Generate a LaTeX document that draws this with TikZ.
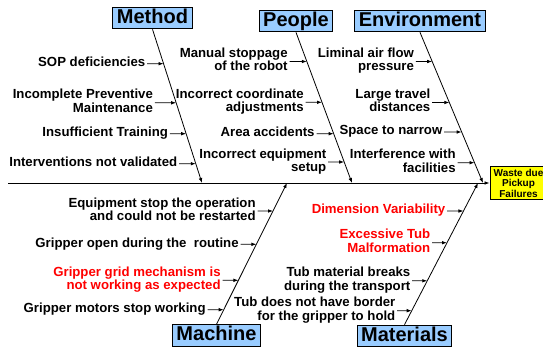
\documentclass[tikz,border=0pt]{standalone}
\usepackage{fontspec}
\setmainfont{Liberation Sans}
\usetikzlibrary{arrows.meta,intersections}
\definecolor{catblue}{RGB}{153,204,255}
\definecolor{effectyellow}{RGB}{255,255,0}

% arrow from a cause label to the bone it belongs to
\newcommand\causeto[2]{%
  \path[name path=hline] (#2.east) -- ++(90,0);
  \draw[tip, name intersections={of=#1 and hline}] (#2.east) -- (intersection-1);
}

\begin{document}
\begin{tikzpicture}[x=1pt,y=-1pt,
  line width=0.8pt,
  tip/.style={-{Latex[length=5pt,width=3.6pt]}},
  category/.style={draw=black, line width=1pt, fill=catblue,
    font=\bfseries\fontsize{20}{24}\selectfont,
    inner xsep=4pt, inner ysep=1.5pt, text height=14.5pt, text depth=4.2pt},
  cause/.style={font=\bfseries\fontsize{13.2}{13.4}\selectfont, align=right,
    anchor=east, inner xsep=1.5pt, inner ysep=0pt,
    execute at begin node=\strut, execute at end node=\strut},
  keycause/.style={cause, text=red},
  effect/.style={draw=black, line width=1pt, fill=effectyellow, align=center,
    font=\bfseries\fontsize{10}{10.5}\selectfont, inner sep=0pt,
    minimum width=57pt, minimum height=33pt}
]
\useasboundingbox (0,0) rectangle (543,351);
\clip (0,0) rectangle (543,351);

% effect and spine
\node[effect] (effect) at (518.5,183) {Waste due\\Pickup\\Failures};
\coordinate (tail) at (8,183);
\draw[tip] (tail) -- (effect.west);

% categories
\node[category] (method) at (152.5,18) {Method};
\node[category] (people) at (296,21) {People};
\node[category] (environment) at (420,21) {Environment};
\node[category] (machine) at (216.5,335.5) {Machine};
\node[category] (materials) at (404.5,336) {Materials};

% bones meeting the spine
\coordinate (mtip) at (202,183);
\coordinate (ptip) at (352,183);
\coordinate (etip) at (483,183);
\coordinate (ktip) at (287,183);
\coordinate (ttip) at (478,183);
\draw[tip, name path=mbone] (method.south) -- (mtip);
\draw[tip, name path=pbone] (people.south) -- (ptip);
\draw[tip, name path=ebone] (environment.south) -- (etip);
\draw[tip, name path=kbone] (machine.north) -- (ktip);
\draw[tip, name path=tbone] (materials.north) -- (ttip);

% Method
\node[cause] (m1) at (147.2,63.7) {SOP deficiencies};
\node[cause] (m2) at (154.8,102.8) {Incomplete Preventive\\Maintenance};
\node[cause] (m3) at (169.8,133.7) {Insufficient Training};
\node[cause] (m4) at (179.2,163.7) {Interventions not validated};
\causeto{mbone}{m1}
\causeto{mbone}{m2}
\causeto{mbone}{m3}
\causeto{mbone}{m4}

% People
\node[cause] (p1) at (289.5,61.5) {Manual stoppage\\of the robot};
\node[cause] (p2) at (305.5,102.3) {Incorrect coordinate\\adjustments};
\node[cause] (p3) at (316.5,133.7) {Area accidents};
\node[cause] (p4) at (328.2,162) {Incorrect equipment\\setup};
\causeto{pbone}{p1}
\causeto{pbone}{p2}
\causeto{pbone}{p3}
\causeto{pbone}{p4}

% Environment
\node[cause] (e1) at (415.8,61.5) {Liminal air flow\\pressure};
\node[cause] (e2) at (432.2,102.5) {Large travel\\distances};
\node[cause] (e3) at (444.2,132) {Space to narrow};
\node[cause] (e4) at (457.5,162.7) {Interference with\\facilities};
\causeto{ebone}{e1}
\causeto{ebone}{e2}
\causeto{ebone}{e3}
\causeto{ebone}{e4}

% Machine
\node[cause] (k1) at (257.5,211) {Equipment stop the operation\\and could not be restarted};
\node[cause] (k2) at (240.5,244.3) {Gripper open during the~ routine};
\node[keycause] (k3) at (222.5,280.3) {Gripper grid mechanism is\\not working as expected};
\node[cause] (k4) at (207.5,309.7) {Gripper motors stop working};
\causeto{kbone}{k1}
\causeto{kbone}{k2}
\causeto{kbone}{k3}
\causeto{kbone}{k4}

% Materials
\node[keycause] (t1) at (447.2,211) {Dimension Variability};
\node[keycause] (t2) at (432.2,242.7) {Excessive Tub\\Malformation};
\node[cause] (t3) at (412.2,280.8) {Tub material breaks\\during the transport};
\node[cause] (t4) at (397.2,310.7) {Tub does not have border\\for the gripper to hold};
\causeto{tbone}{t1}
\causeto{tbone}{t2}
\causeto{tbone}{t3}
\causeto{tbone}{t4}
\end{tikzpicture}
\end{document}
